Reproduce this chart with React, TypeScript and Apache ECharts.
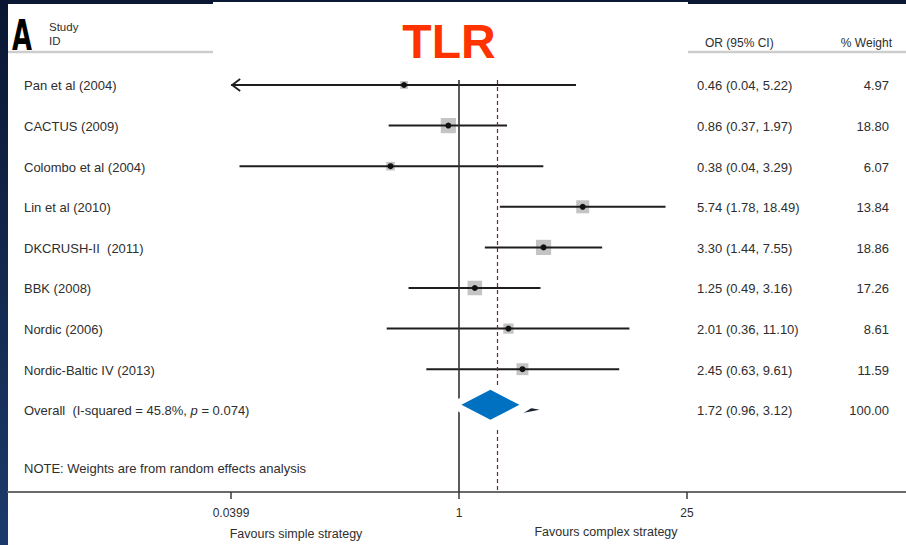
import React, { useEffect, useRef } from "react";
import * as echarts from "echarts";

// ---- data ----
const studies = [
  "Pan et al (2004)",
  "CACTUS (2009)",
  "Colombo et al (2004)",
  "Lin et al (2010)",
  "DKCRUSH-II  (2011)",
  "BBK (2008)",
  "Nordic (2006)",
  "Nordic-Baltic IV (2013)",
];
const oddsRatios = [0.46, 0.86, 0.38, 5.74, 3.3, 1.25, 2.01, 2.45];
const ciLower = [0.04, 0.37, 0.045, 1.78, 1.44, 0.49, 0.36, 0.63];
const ciUpper = [5.22, 1.97, 3.29, 18.49, 7.55, 3.16, 11.1, 9.61];
const weights = [4.97, 18.8, 6.07, 13.84, 18.86, 17.26, 8.61, 11.59];
const orLabels = [
  "0.46 (0.04, 5.22)",
  "0.86 (0.37, 1.97)",
  "0.38 (0.04, 3.29)",
  "5.74 (1.78, 18.49)",
  "3.30 (1.44, 7.55)",
  "1.25 (0.49, 3.16)",
  "2.01 (0.36, 11.10)",
  "2.45 (0.63, 9.61)",
];
const weightLabels = ["4.97", "18.80", "6.07", "13.84", "18.86", "17.26", "8.61", "11.59"];

const overallLabel = "Overall  (I-squared = 45.8%, {i|p} = 0.074)";
const overallValues = [0.96, 1.72, 3.12]; // lower, estimate, upper
const overallOrLabel = "1.72 (0.96, 3.12)";
const overallWeightLabel = "100.00";

const tickValues = [0.0399, 1, 25];
const tickLabels = ["0.0399", "1", "25"];
const nullValue = 1;

const FONT = "Liberation Sans, Arial, sans-serif";
const TEXT = "#2e2e2e";

export default function App() {
  const ref = useRef<HTMLDivElement>(null);

  useEffect(() => {
    if (!ref.current) return;
    const chart = echarts.init(ref.current, undefined, { renderer: "svg" });
    const axisMin = tickValues[0];
    const overallRow = studies.length;

    const studyData = studies.map((_, i) => [
      ciLower[i],
      ciUpper[i],
      i,
      oddsRatios[i],
      weights[i],
    ]);

    const tableData = studies
      .map((s, i) => [i, s, orLabels[i], weightLabels[i]])
      .concat([[overallRow, overallLabel, overallOrLabel, overallWeightLabel]]);

    const option: any = {
      animation: false,
      backgroundColor: "#0b1834",
      grid: { left: 8, right: 0, top: 80, bottom: 53, containLabel: false },
      xAxis: {
        type: "log",
        logBase: 10,
        min: 0.00171,
        max: 552.3,
        position: "bottom",
        axisLine: { show: true, onZero: false, lineStyle: { color: "#6a6a6a", width: 2 } },
        axisTick: {
          show: true,
          length: 7,
          customValues: tickValues,
          lineStyle: { color: "#3a3a3a", width: 1.5 },
        },
        axisLabel: {
          show: true,
          customValues: tickValues,
          margin: 15,
          fontSize: 12,
          fontFamily: FONT,
          color: TEXT,
          formatter: (v: number) => {
            const k = tickValues.findIndex((t) => Math.abs(t - v) < 1e-6 * Math.max(1, t));
            return k >= 0 ? tickLabels[k] : "";
          },
        },
        splitLine: { show: false },
        minorTick: { show: false },
      },
      yAxis: {
        type: "value",
        inverse: true,
        min: -0.123,
        max: 10.025,
        show: false,
      },
      graphic: [
        {
          type: "rect",
          z: -20,
          shape: { x: 0, y: 0, width: 8, height: 545 },
          style: {
            fill: new echarts.graphic.LinearGradient(0, 0, 0, 1, [
              { offset: 0, color: "#0a1631" },
              { offset: 1, color: "#1b3a6b" },
            ]),
          },
        },
        { type: "rect", z: -20, shape: { x: 8, y: 4, width: 898, height: 541 }, style: { fill: "#ffffff" } },
        { type: "line", z: -19, shape: { x1: 8, y1: 52, x2: 906, y2: 52 }, style: { stroke: "#cdcdcd", lineWidth: 2.5 } },
        { type: "rect", z: -18, shape: { x: 213, y: 2, width: 475, height: 72 }, style: { fill: "#ffffff" } },
        {
          type: "text",
          z: -17,
          x: 12,
          y: 13,
          scaleX: 0.6,
          style: { text: "A", fontSize: 43, fontWeight: "bold", fontFamily: "DejaVu Sans, sans-serif", fill: "#000" },
        },
        { type: "text", z: -17, x: 49, y: 21, style: { text: "Study", fontSize: 11.5, fontFamily: FONT, fill: TEXT } },
        { type: "text", z: -17, x: 49, y: 35, style: { text: "ID", fontSize: 11.5, fontFamily: FONT, fill: TEXT } },
        {
          type: "text",
          z: -17,
          x: 449,
          y: 41,
          style: {
            text: "TLR",
            fontSize: 48,
            fontWeight: "bold",
            fontFamily: FONT,
            fill: "#ff3300",
            align: "center",
            verticalAlign: "middle",
          },
        },
        { type: "text", z: -17, x: 705, y: 43, style: { text: "OR (95% CI)", fontSize: 12, fontFamily: FONT, fill: TEXT, verticalAlign: "middle" } },
        { type: "text", z: -17, x: 892, y: 43, style: { text: "% Weight", fontSize: 12, fontFamily: FONT, fill: TEXT, align: "right", verticalAlign: "middle" } },
        { type: "text", z: -17, x: 24, y: 468, style: { text: "NOTE: Weights are from random effects analysis", fontSize: 13, fontFamily: FONT, fill: TEXT, verticalAlign: "middle" } },
        { type: "text", z: -17, x: 296, y: 534, style: { text: "Favours simple strategy", fontSize: 12.5, fontFamily: FONT, fill: TEXT, align: "center", verticalAlign: "middle" } },
        { type: "text", z: -17, x: 606, y: 532, style: { text: "Favours complex strategy", fontSize: 12.5, fontFamily: FONT, fill: TEXT, align: "center", verticalAlign: "middle" } },
      ],
      series: [
        {
          type: "custom",
          name: "studies",
          z: 2,
          data: studyData,
          encode: { x: [0, 1, 3], y: 2 },
          renderItem: (_params: any, api: any) => {
            const lo = api.value(0);
            const hi = api.value(1);
            const row = api.value(2);
            const est = api.value(3);
            const w = api.value(4);
            const clipped = lo <= axisMin * 1.01;
            const p1 = api.coord([Math.max(lo, axisMin), row]);
            const p2 = api.coord([hi, row]);
            const pe = api.coord([est, row]);
            const side = 3.5 * Math.sqrt(w);
            const children: any[] = [
              {
                type: "rect",
                shape: { x: pe[0] - side / 2, y: pe[1] - side / 2, width: side, height: side },
                style: { fill: "#c4c4c4" },
              },
              {
                type: "line",
                shape: { x1: p1[0], y1: p1[1], x2: p2[0], y2: p2[1] },
                style: { stroke: "#1e1e1e", lineWidth: 2 },
              },
              {
                type: "circle",
                shape: { cx: pe[0], cy: pe[1], r: 3 },
                style: { fill: "#111" },
              },
            ];
            if (clipped) {
              children.push({
                type: "polyline",
                shape: { points: [[p1[0] + 9, p1[1] - 6], [p1[0] + 1, p1[1]], [p1[0] + 9, p1[1] + 6]] },
                style: { stroke: "#1e1e1e", lineWidth: 1.8, fill: "none" },
              });
            }
            return { type: "group", children };
          },
          markLine: {
            silent: true,
            symbol: ["none", "none"],
            label: { show: false },
            data: [
              { xAxis: nullValue, lineStyle: { color: "#333", width: 1.6, type: "solid" } },
              { xAxis: overallValues[1], lineStyle: { color: "#7a2323", width: 1.2, type: [4, 3] } },
            ],
          },
        },
        {
          type: "custom",
          name: "overall",
          z: 10,
          data: [[overallValues[0], overallValues[1], overallValues[2], overallRow]],
          encode: { x: [0, 1, 2], y: 3 },
          renderItem: (_params: any, api: any) => {
            const row = api.value(3);
            const L = api.coord([api.value(0), row]);
            const C = api.coord([api.value(1), row]);
            const R = api.coord([api.value(2), row]);
            const cx = C[0];
            const cy = C[1];
            return {
              type: "group",
              children: [
                {
                  type: "polygon",
                  shape: { points: [[L[0], cy], [cx, cy - 8], [R[0], cy], [cx, cy + 8]] },
                  style: { fill: "#1a1f2e" },
                },
                {
                  type: "polygon",
                  shape: { points: [[cx - 51, cy - 5], [cx - 7, cy - 27], [cx + 41, cy - 6], [cx - 4, cy + 22]] },
                  style: { fill: "#ffffff" },
                },
                {
                  type: "polygon",
                  shape: { points: [[cx - 36, cy - 5], [cx - 7, cy - 20], [cx + 22, cy - 5], [cx - 7, cy + 10]] },
                  style: { fill: "#0070c0" },
                },
              ],
            };
          },
        },
        {
          type: "custom",
          name: "table",
          z: 3,
          data: tableData,
          encode: { y: 0 },
          renderItem: (_params: any, api: any) => {
            const row = api.value(0);
            const y = api.coord([1, row])[1];
            const d = tableData[_params.dataIndex];
            return {
              type: "group",
              children: [
                {
                  type: "text",
                  style: {
                    text: d[1],
                    x: 24,
                    y: y + 1,
                    fontSize: 13,
                    fontFamily: FONT,
                    fill: TEXT,
                    verticalAlign: "middle",
                    rich: { i: { fontStyle: "italic", fontSize: 13, fontFamily: FONT, fill: TEXT } },
                  },
                },
                {
                  type: "text",
                  style: { text: d[2], x: 697, y: y + 1, fontSize: 13, fontFamily: FONT, fill: TEXT, verticalAlign: "middle" },
                },
                {
                  type: "text",
                  style: { text: d[3], x: 889, y: y + 1, fontSize: 13, fontFamily: FONT, fill: TEXT, align: "right", verticalAlign: "middle" },
                },
              ],
            };
          },
        },
      ],
    };

    chart.setOption(option);
    return () => chart.dispose();
  }, []);

  return (
    <div
      ref={ref}
      style={{ position: "absolute", left: 0, top: 0, width: 906, height: 545 }}
    />
  );
}
